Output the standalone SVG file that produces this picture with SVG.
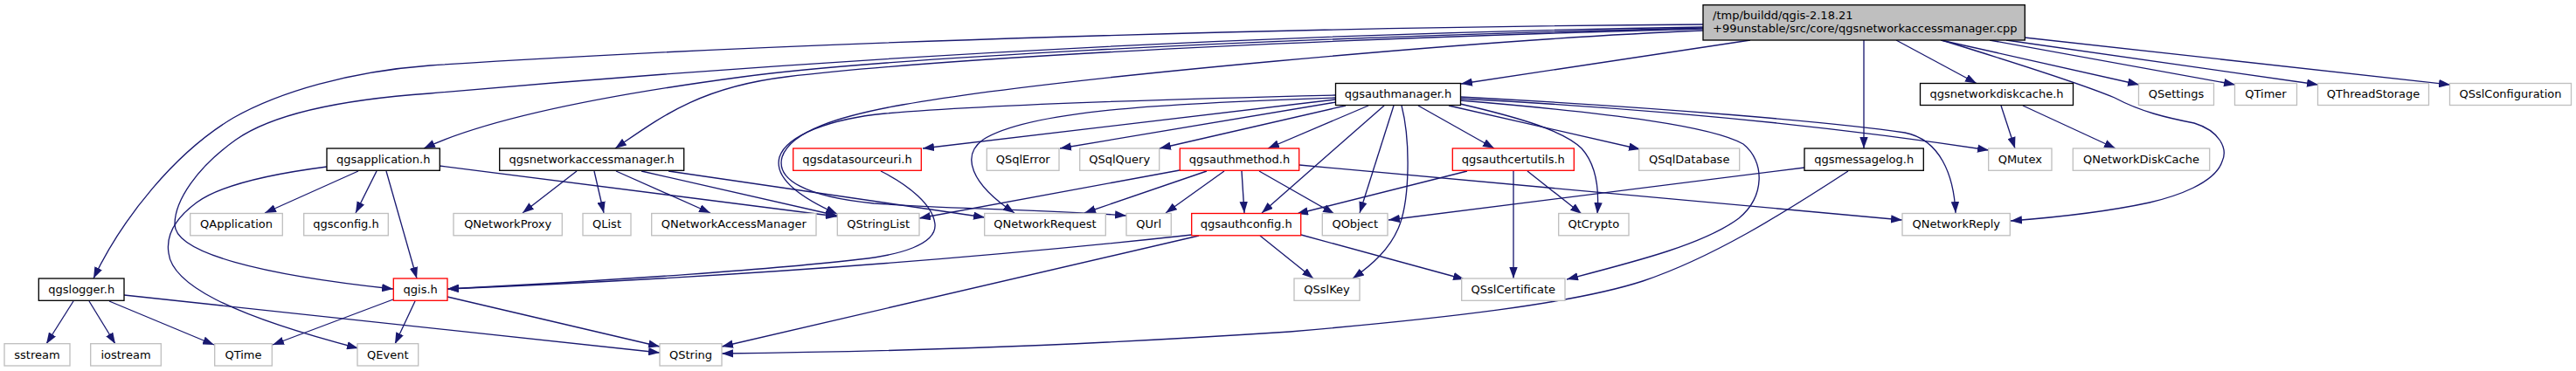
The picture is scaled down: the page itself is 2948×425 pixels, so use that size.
<svg xmlns="http://www.w3.org/2000/svg" width="2948" height="425" viewBox="0 0 2948 425">
<style>
rect{stroke-width:1.33}
.b rect{fill:#fff;stroke:#000}
.r rect{fill:#fff;stroke:#f00}
.g rect{fill:#fff;stroke:#bfbfbf}
.m rect{fill:#bfbfbf;stroke:#000}
text{font-family:"DejaVu Sans","Liberation Sans",sans-serif;font-size:13px;fill:#000;text-anchor:middle}
.m text{text-anchor:start}
#edges path{fill:none;stroke:#191970;stroke-width:1.33;marker-end:url(#a)}
</style>
<defs>
<marker id="a" viewBox="0 0 13 9.4" refX="13" refY="4.7" markerWidth="13" markerHeight="9.4" orient="auto" markerUnits="userSpaceOnUse"><path d="M0,0 L13,4.7 L0,9.4 z" fill="#191970"/></marker>
</defs>
<rect x="0" y="0" width="2948" height="425" fill="#fff" stroke="none"/>
<g id="edges">
<path d="M1949,28 C1500,31 900,48 492,75 C400,82 320,105 267,135 C200,175 140,250 107,319"/>
<path d="M1949,31 C1500,38 1000,62 492,107 C420,112 320,125 270,160 C225,192 200,230 200,257 C200,290 300,315 450,331"/>
<path d="M1949,32 C1400,45 1000,68 850,88 C700,108 560,135 485,170"/>
<path d="M1949,33 C1400,48 1050,70 900,88 C800,100 755,135 704,170"/>
<path d="M1949,35 C1700,45 1200,90 1033,120 C960,133 905,150 895,180 C888,205 920,225 1000,233 C1100,240 1200,240 1289,247"/>
<path d="M2003,46 L1672,96"/>
<path d="M2133,46 L2133,170"/>
<path d="M2170,46 L2262,95.5"/>
<path d="M2221,46 L2448,97"/>
<path d="M2222,46 C2300,70 2380,95 2420,112 C2450,128 2480,135 2511,141 C2540,150 2550,170 2543,185 C2535,210 2490,225 2460,232 C2400,245 2340,250 2301,253"/>
<path d="M2277,46 L2558,97"/>
<path d="M2296,46 L2653,97"/>
<path d="M2317,43 L2804,97"/>
<path d="M374,191 C320,198 255,210 225,232 C198,252 190,272 193,290 C197,325 260,360 410,399"/>
<path d="M1528,109 C1400,112 1150,118 1013,130 C950,136 900,155 892,180 C885,205 920,228 958,245"/>
<path d="M1528,112 C1350,118 1180,125 1125,160 C1100,178 1110,210 1161,244"/>
<path d="M1528,114 L1056,170"/>
<path d="M1529,117 L1213,170"/>
<path d="M1540,121 L1327,170"/>
<path d="M1566,121 L1451,170"/>
<path d="M1584,121 L1444,244"/>
<path d="M1595,121 L1556,244"/>
<path d="M1604,121 C1614,160 1614,230 1600,262 C1590,285 1572,302 1548,319"/>
<path d="M1623,121 L1710,170"/>
<path d="M1658,121 L1877,171"/>
<path d="M1671,119 C1740,135 1790,150 1810,170 C1828,190 1830,220 1828,245"/>
<path d="M1671,115 C1850,130 1960,145 1995,165 C2020,185 2020,225 1990,250 C1950,280 1870,300 1793,320"/>
<path d="M1671,111 C1900,123 2100,140 2180,152 C2220,160 2236,200 2238,244"/>
<path d="M1671,113 C1900,125 2100,145 2276,172"/>
<path d="M1350,195 L1052,250"/>
<path d="M1381,196 L1241,244"/>
<path d="M1401,196 L1334,244"/>
<path d="M1421,196 L1424,244"/>
<path d="M1441,196 L1527,245"/>
<path d="M1487,189 L2177,252"/>
<path d="M660,196 L598,244"/>
<path d="M680,196 L691,244"/>
<path d="M705,196 L813,244"/>
<path d="M734,196 L958,247"/>
<path d="M765,196 L1127,249"/>
<path d="M410,196 L303,244"/>
<path d="M431,196 L407,244"/>
<path d="M442,196 L477,319"/>
<path d="M503,190 L958,248"/>
<path d="M84,345 L53,394"/>
<path d="M102,345 L132,394"/>
<path d="M125,345 L245,395"/>
<path d="M142,338 L755,404"/>
<path d="M450,343 L312,395"/>
<path d="M475,345 L452,394"/>
<path d="M512,340 L755,397"/>
<path d="M2065,192 L1589,252"/>
<path d="M2115,196 C2040,245 1960,295 1880,322 C1800,348 1650,365 1476,380 C1200,398 1000,403 826,405"/>
<path d="M2290,121 L2306,170"/>
<path d="M2315,121 L2421,170"/>
<path d="M1679,196 L1484,245"/>
<path d="M1732,196 L1732,319"/>
<path d="M1748,196 L1810,245"/>
<path d="M1364,269 C1200,287 900,315 512,331"/>
<path d="M1372,270 L826,397"/>
<path d="M1442,270 L1503,319"/>
<path d="M1489,269 L1676,320"/>
<path d="M1008,196 C1040,212 1068,235 1070,257 C1072,280 1030,292 984,297 C900,307 700,322 512,331"/>
</g>
<g id="main" class="m"><rect x="1949" y="5.7" width="368.3" height="40.3"/><text x="1960" y="21.5">/tmp/buildd/qgis-2.18.21</text><text x="1960" y="36.5">+99unstable/src/core/qgsnetworkaccessmanager.cpp</text></g>
<g id="qgsauthmanager" class="b"><rect x="1528.5" y="95.5" width="143" height="25"/><text x="1600" y="112">qgsauthmanager.h</text></g>
<g id="qgsnetworkdiskcache" class="b"><rect x="2197.5" y="95.5" width="175" height="25"/><text x="2285" y="112">qgsnetworkdiskcache.h</text></g>
<g id="QSettings" class="g"><rect x="2447.5" y="95.5" width="86" height="25"/><text x="2490.5" y="112">QSettings</text></g>
<g id="QTimer" class="g"><rect x="2557.5" y="95.5" width="71" height="25"/><text x="2593" y="112">QTimer</text></g>
<g id="QThreadStorage" class="g"><rect x="2652.5" y="95.5" width="127" height="25"/><text x="2716" y="112">QThreadStorage</text></g>
<g id="QSslConfiguration" class="g"><rect x="2803.5" y="95.5" width="139" height="25"/><text x="2873" y="112">QSslConfiguration</text></g>
<g id="qgsapplication" class="b"><rect x="374" y="170" width="129.3" height="25.3"/><text x="438.7" y="186.8">qgsapplication.h</text></g>
<g id="qgsnetworkaccessmanager" class="b"><rect x="571.7" y="170" width="211" height="25.3"/><text x="677.2" y="186.8">qgsnetworkaccessmanager.h</text></g>
<g id="qgsdatasourceuri" class="r"><rect x="907.7" y="170" width="146.6" height="25.3"/><text x="981" y="186.8">qgsdatasourceuri.h</text></g>
<g id="QSqlError" class="g"><rect x="1129.3" y="170" width="82.7" height="25.3"/><text x="1170.7" y="186.8">QSqlError</text></g>
<g id="QSqlQuery" class="g"><rect x="1235.7" y="170" width="91" height="25.3"/><text x="1281.2" y="186.8">QSqlQuery</text></g>
<g id="qgsauthmethod" class="r"><rect x="1350.3" y="170" width="136.4" height="25.3"/><text x="1418.5" y="186.8">qgsauthmethod.h</text></g>
<g id="qgsauthcertutils" class="r"><rect x="1662.3" y="170" width="139" height="25.3"/><text x="1731.8" y="186.8">qgsauthcertutils.h</text></g>
<g id="QSqlDatabase" class="g"><rect x="1875.7" y="170" width="115" height="25.3"/><text x="1933.2" y="186.8">QSqlDatabase</text></g>
<g id="qgsmessagelog" class="b"><rect x="2065" y="170" width="136.3" height="25.3"/><text x="2133.2" y="186.8">qgsmessagelog.h</text></g>
<g id="QMutex" class="g"><rect x="2275.7" y="170" width="72.3" height="25.3"/><text x="2311.8" y="186.8">QMutex</text></g>
<g id="QNetworkDiskCache" class="g"><rect x="2372.3" y="170" width="156.4" height="25.3"/><text x="2450.5" y="186.8">QNetworkDiskCache</text></g>
<g id="QApplication" class="g"><rect x="217.7" y="244.5" width="105.6" height="25.3"/><text x="270.5" y="261.3">QApplication</text></g>
<g id="qgsconfig" class="g"><rect x="347.7" y="244.5" width="96.6" height="25.3"/><text x="396" y="261.3">qgsconfig.h</text></g>
<g id="QNetworkProxy" class="g"><rect x="519" y="244.5" width="124.3" height="25.3"/><text x="581.2" y="261.3">QNetworkProxy</text></g>
<g id="QList" class="g"><rect x="667" y="244.5" width="55" height="25.3"/><text x="694.5" y="261.3">QList</text></g>
<g id="QNetworkAccessManager" class="g"><rect x="745.7" y="244.5" width="188.3" height="25.3"/><text x="839.8" y="261.3">QNetworkAccessManager</text></g>
<g id="QStringList" class="g"><rect x="958.3" y="244.5" width="93.7" height="25.3"/><text x="1005.2" y="261.3">QStringList</text></g>
<g id="QNetworkRequest" class="g"><rect x="1126.7" y="244.5" width="138.6" height="25.3"/><text x="1196" y="261.3">QNetworkRequest</text></g>
<g id="QUrl" class="g"><rect x="1289" y="244.5" width="51.3" height="25.3"/><text x="1314.7" y="261.3">QUrl</text></g>
<g id="qgsauthconfig" class="r"><rect x="1363.7" y="244.5" width="125" height="25.3"/><text x="1426.2" y="261.3">qgsauthconfig.h</text></g>
<g id="QObject" class="g"><rect x="1513.3" y="244.5" width="74.7" height="25.3"/><text x="1550.7" y="261.3">QObject</text></g>
<g id="QtCrypto" class="g"><rect x="1783.7" y="244.5" width="80.3" height="25.3"/><text x="1823.8" y="261.3">QtCrypto</text></g>
<g id="QNetworkReply" class="g"><rect x="2177" y="244.5" width="123.3" height="25.3"/><text x="2238.7" y="261.3">QNetworkReply</text></g>
<g id="qgslogger" class="b"><rect x="44.3" y="319" width="97.7" height="25.3"/><text x="93.2" y="335.8">qgslogger.h</text></g>
<g id="qgis" class="r"><rect x="450.3" y="319" width="61.7" height="25.3"/><text x="481.2" y="335.8">qgis.h</text></g>
<g id="QSslKey" class="g"><rect x="1481" y="319" width="75" height="25.3"/><text x="1518.5" y="335.8">QSslKey</text></g>
<g id="QSslCertificate" class="g"><rect x="1672.7" y="319" width="118.3" height="25.3"/><text x="1731.8" y="335.8">QSslCertificate</text></g>
<g id="sstream" class="g"><rect x="5" y="393.7" width="75" height="25.3"/><text x="42.5" y="410.5">sstream</text></g>
<g id="iostream" class="g"><rect x="103.7" y="393.7" width="80.6" height="25.3"/><text x="144" y="410.5">iostream</text></g>
<g id="QTime" class="g"><rect x="245.7" y="393.7" width="65.6" height="25.3"/><text x="278.5" y="410.5">QTime</text></g>
<g id="QEvent" class="g"><rect x="409" y="393.7" width="69.7" height="25.3"/><text x="443.8" y="410.5">QEvent</text></g>
<g id="QString" class="g"><rect x="755" y="393.7" width="71" height="25.3"/><text x="790.5" y="410.5">QString</text></g>
</svg>
